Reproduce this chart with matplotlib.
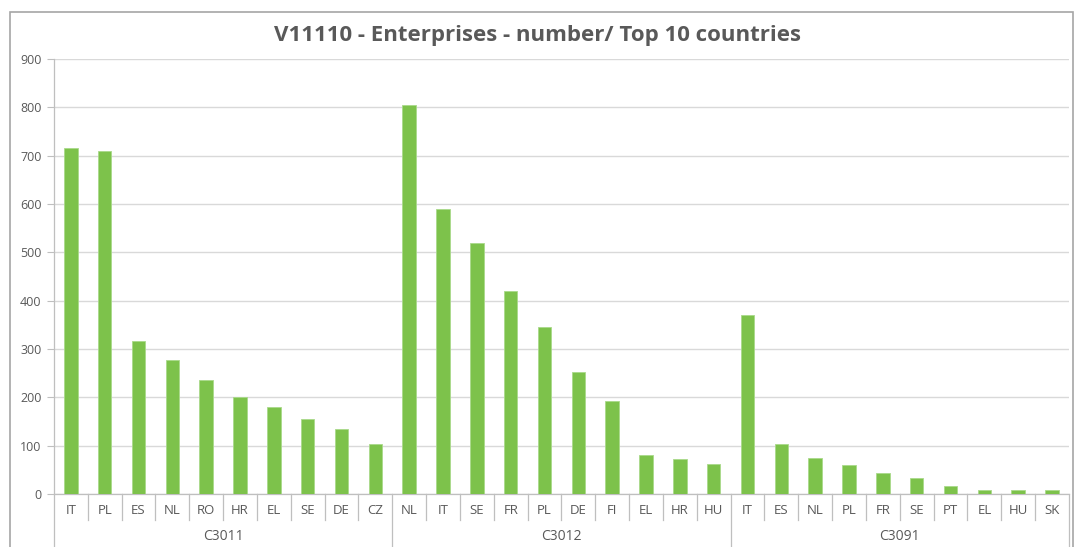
import matplotlib.pyplot as plt
from matplotlib.lines import Line2D
from matplotlib.patches import Rectangle
import numpy as np

groups = ["C3011", "C3012", "C3091"]
countries = [
    ["IT", "PL", "ES", "NL", "RO", "HR", "EL", "SE", "DE", "CZ"],
    ["NL", "IT", "SE", "FR", "PL", "DE", "FI", "EL", "HR", "HU"],
    ["IT", "ES", "NL", "PL", "FR", "SE", "PT", "EL", "HU", "SK"],
]
values = [
    [716, 710, 316, 277, 236, 200, 180, 155, 135, 103],
    [804, 590, 520, 421, 346, 253, 193, 81, 72, 62],
    [370, 104, 74, 60, 43, 33, 16, 9, 9, 8],
]
title = "V11110 - Enterprises - number/ Top 10 countries"

plt.rcParams['font.family'] = ['Open Sans', 'DejaVu Sans']
txt = "#595959"
line_c = "#BFBFBF"

labels = [c for grp in countries for c in grp]
vals = [v for grp in values for v in grp]
x = np.arange(len(vals))

fig = plt.figure(figsize=(10.75, 5.47), dpi=100)
ax = fig.add_axes([0.0502, 0.0969, 0.9442, 0.7952])

# outer chart frame
fig.patches.append(Rectangle((10 / 1075, -0.01), 1063 / 1075, 1 - 12 / 547 + 0.01,
                             transform=fig.transFigure, fill=False,
                             edgecolor="#A6A6A6", linewidth=1.2))

ax.bar(x, vals, width=0.4, color="#7DC24B", edgecolor="#A9D98A", linewidth=0.6, zorder=3)

ax.set_xlim(-0.5, len(vals) - 0.5)
ax.set_ylim(0, 900)
ax.set_yticks(np.arange(0, 901, 100))
ax.yaxis.grid(True, color="#D9D9D9", linewidth=1.0, zorder=0)
ax.tick_params(axis="y", labelsize=9, colors=txt, length=5, width=0.8, pad=4)
ax.tick_params(axis="y", color=line_c)

for s in ["top", "right"]:
    ax.spines[s].set_visible(False)
for s in ["left", "bottom"]:
    ax.spines[s].set_color(line_c)
    ax.spines[s].set_linewidth(0.9)

# category separators and labels
ax.set_xticks([])
trans = ax.get_xaxis_transform()
n = len(countries[0])
for i in range(len(vals) + 1):
    xb = i - 0.5
    if i % n == 0:
        y0 = -0.125
    else:
        y0 = -0.06
    ax.add_line(Line2D([xb, xb], [0, y0], transform=trans, color=line_c,
                       linewidth=0.9, clip_on=False))
for i, lab in enumerate(labels):
    ax.text(i, -0.039, lab, transform=trans, ha="center", va="center",
            fontsize=9.5, color=txt)
for g, name in enumerate(groups):
    ax.text(g * n + (n - 1) / 2, -0.097, name, transform=trans, ha="center",
            va="center", fontsize=10, color=txt)

fig.text(0.5, 0.936, title, ha="center", va="center", fontsize=16,
         fontweight="bold", color=txt)

fig.savefig("out.png", dpi=100)
